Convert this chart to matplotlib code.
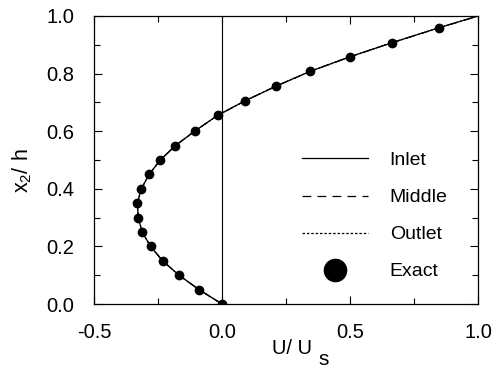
import matplotlib
matplotlib.use("Agg")
import matplotlib.pyplot as plt
from matplotlib.lines import Line2D
from matplotlib.ticker import MultipleLocator, FormatStrFormatter

plt.rcParams['font.family'] = ['Liberation Sans', 'DejaVu Sans']

# Exact solution points
x2_exact = [0.0, 0.05, 0.10, 0.15, 0.20, 0.25, 0.30, 0.35, 0.40, 0.45, 0.50,
            0.55, 0.60, 0.655, 0.705, 0.756, 0.808, 0.858, 0.907, 0.959]
u_exact = [0.0, -0.09, -0.168, -0.232, -0.279, -0.312, -0.327, -0.331, -0.315,
           -0.285, -0.241, -0.182, -0.107, -0.017, 0.089, 0.21, 0.345, 0.499,
           0.663, 0.847]

# Simulated profiles (coincide with exact solution)
x2_line = x2_exact + [1.0]
u_inlet = u_exact + [1.0]
u_middle = u_exact + [1.0]
u_outlet = u_exact + [1.0]

fig = plt.figure(figsize=(4.97, 3.68), dpi=100)
ax = fig.add_axes([94/497, 64/368, 384/497, 288/368])

ax.plot(u_inlet, x2_line, '-', color='black', lw=0.9)
ax.plot(u_middle, x2_line, color='black', lw=0.9, dashes=(7, 5))
ax.plot(u_outlet, x2_line, color='black', lw=0.9, dashes=(2, 1.5))
ax.plot(u_exact, x2_exact, 'o', color='black', ms=6, ls='none')
ax.axvline(0.0, color='black', lw=0.8)

ax.set_xlim(-0.5, 1.0)
ax.set_ylim(0.0, 1.0)
ax.xaxis.set_major_locator(MultipleLocator(0.5))
ax.xaxis.set_minor_locator(MultipleLocator(0.25))
ax.yaxis.set_major_locator(MultipleLocator(0.2))
ax.yaxis.set_minor_locator(MultipleLocator(0.1))
ax.tick_params(which='both', direction='in', top=True, right=True, width=0.8)
ax.tick_params(which='major', length=6, labelsize=14.5)
ax.tick_params(axis='y', which='major', pad=14)
ax.tick_params(axis='x', which='major', pad=13.5)
ax.tick_params(which='minor', length=4)
ax.xaxis.set_major_formatter(FormatStrFormatter('%.1f'))
ax.yaxis.set_major_formatter(FormatStrFormatter('%.1f'))
for s in ax.spines.values():
    s.set_linewidth(0.9)

# Axis labels placed as text
ax.text(0.4635, -0.1528, 'U/ U', transform=ax.transAxes, fontsize=14.5,
        ha='left', va='center')
ax.text(0.585, -0.194, 's', transform=ax.transAxes, fontsize=15,
        ha='left', va='center')
ax.text(-0.1875, 0.465, r'$\mathregular{x_2/\ h}$', transform=ax.transAxes,
        fontsize=15.5, ha='center', va='center', rotation=90)

handles = [
    Line2D([], [], color='black', lw=0.9, ls='-'),
    Line2D([], [], color='black', lw=0.9, dashes=(7, 5)),
    Line2D([], [], color='black', lw=0.9, dashes=(2, 1.5)),
    Line2D([], [], color='black', marker='o', ms=16, ls='none'),
]
labels = ['Inlet', 'Middle', 'Outlet', 'Exact']
ax.legend(handles, labels, loc='upper left', bbox_to_anchor=(0.542, 0.529),
          frameon=False, fontsize=14, handlelength=3.4, handletextpad=1.1,
          labelspacing=1.0, borderpad=0, borderaxespad=0)

fig.savefig('out.png', dpi=100)
